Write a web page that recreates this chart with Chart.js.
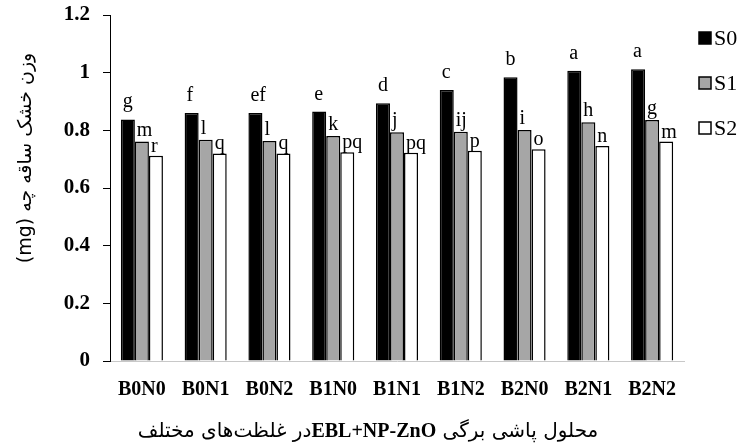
<!DOCTYPE html>
<html>
<head>
<meta charset="utf-8">
<script src="https://cdn.jsdelivr.net/npm/chart.js@4"></script>
<style>
  html, body { margin: 0; padding: 0; background: #fff; }
</style>
</head>
<body>
<canvas id="myChart" width="750" height="447"></canvas>
<script>
const ctx = document.querySelector("#myChart").getContext("2d");

const labels = ["B0N0", "B0N1", "B0N2", "B1N0", "B1N1", "B1N2", "B2N0", "B2N1", "B2N2"];

// dry weight per treatment, three S levels
const s0Values = [0.838, 0.86, 0.86, 0.865, 0.894, 0.94, 0.984, 1.007, 1.012];
const s1Values = [0.761, 0.767, 0.763, 0.78, 0.793, 0.795, 0.801, 0.828, 0.836];
const s2Values = [0.712, 0.72, 0.72, 0.724, 0.722, 0.729, 0.734, 0.746, 0.761];

// mean comparison letters
const s0Letters = ["g", "f", "ef", "e", "d", "c", "b", "a", "a"];
const s1Letters = ["m", "l", "l", "k", "j", "ij", "i", "h", "g"];
const s2Letters = ["r", "q", "q", "pq", "pq", "p", "o", "n", "m"];

const yMin = 0;
const yMax = 1.2;
const yStep = 0.2;

const yTitle = "(mg) وزن خشک ساقه چه";
// x title is drawn right to left: first phrase on the right
const xTitleStart = "محلول پاشی برگی";
const xTitleMid = "EBL+NP-ZnO";
const xTitleEnd = "در غلظت\u200Cهای مختلف";

const serif = "'Liberation Serif', 'Times New Roman', serif";
const farsi = "'DejaVu Sans', sans-serif";

// letters over the bars
const letterGap = [12, 6, 4];
const letterPlugin = {
  id: "letters",
  afterDatasetsDraw(chart) {
    const c = chart.ctx;
    c.save();
    c.font = "20px " + serif;
    c.fillStyle = "#000";
    c.textAlign = "left";
    c.textBaseline = "alphabetic";
    chart.data.datasets.forEach((ds, i) => {
      chart.getDatasetMeta(i).data.forEach((bar, j) => {
        c.fillText(ds.letters[j], bar.x - bar.width / 2 + 2, bar.y - letterGap[i]);
      });
    });
    c.restore();
  },
};

// axis titles and the legend on the right
const extrasPlugin = {
  id: "extras",
  afterDraw(chart) {
    const c = chart.ctx;

    // y title, sits a bit above the middle like the original
    c.save();
    c.fillStyle = "#000";
    c.translate(26, 158);
    c.rotate(-Math.PI / 2);
    c.font = "19px " + farsi;
    c.textAlign = "center";
    c.textBaseline = "middle";
    c.fillText(yTitle, 0, 0);
    c.restore();

    // x title, three pieces laid out from the right
    c.save();
    c.fillStyle = "#000";
    c.textAlign = "left";
    c.textBaseline = "alphabetic";
    const parts = [
      { text: xTitleEnd, font: "20px " + farsi },
      { text: xTitleMid, font: "bold 20px " + serif },
      { text: " " + xTitleStart, font: "20px " + farsi },
    ];
    let total = 0;
    parts.forEach((p) => {
      c.font = p.font;
      p.w = c.measureText(p.text).width;
      total += p.w;
    });
    let x = 368 - total / 2;
    parts.forEach((p) => {
      c.font = p.font;
      c.fillText(p.text, x, 437);
      x += p.w;
    });
    c.restore();

    // legend
    c.save();
    c.font = "22px " + serif;
    c.textAlign = "left";
    c.textBaseline = "middle";
    c.lineWidth = 1.5;
    chart.data.datasets.forEach((ds, i) => {
      const y = 38 + i * 45;
      c.fillStyle = ds.backgroundColor;
      c.strokeStyle = ds.borderColor;
      c.fillRect(699, y - 6, 12, 12);
      c.strokeRect(699, y - 6, 12, 12);
      c.fillStyle = "#000";
      c.fillText(ds.label, 714, y + 1);
    });
    c.restore();
  },
};

const data = {
  labels,
  datasets: [
    {
      label: "S0",
      data: s0Values,
      letters: s0Letters,
      backgroundColor: "#000",
      borderColor: "#000",
      borderWidth: 1.5,
    },
    {
      label: "S1",
      data: s1Values,
      letters: s1Letters,
      backgroundColor: "#a6a6a6",
      borderColor: "#000",
      borderWidth: 1.5,
    },
    {
      label: "S2",
      data: s2Values,
      letters: s2Letters,
      backgroundColor: "#fff",
      borderColor: "#000",
      borderWidth: 1.5,
    },
  ],
};

const config = {
  type: "bar",
  data: data,
  options: {
    responsive: false,
    animation: false,
    layout: { padding: { top: 15, right: 66, bottom: 0, left: 0 } },
    datasets: {
      bar: { barPercentage: 1, categoryPercentage: 0.66 },
    },
    plugins: {
      tooltip: { enabled: false },
      legend: { display: false },
    },
    scales: {
      x: {
        grid: { display: false, drawTicks: false },
        border: { color: "#c8c8c8", width: 1 },
        ticks: {
          color: "#000",
          padding: 17,
          maxRotation: 0,
          autoSkip: false,
          font: { family: serif, size: 20, weight: "bold" },
        },
        afterFit: (scale) => {
          scale.height = 86;
          scale.paddingLeft = 0;
          scale.paddingRight = 0;
        },
      },
      y: {
        min: yMin,
        max: yMax,
        grid: {
          drawOnChartArea: false,
          drawTicks: true,
          tickLength: 7,
          color: "#000",
        },
        border: { color: "#000", width: 1 },
        ticks: {
          stepSize: yStep,
          color: "#000",
          padding: 13,
          font: { family: serif, size: 21, weight: "bold" },
          callback: (value) => String(Number(value.toFixed(1))),
        },
        afterFit: (scale) => {
          scale.width = 110;
          scale.paddingTop = 0;
          scale.paddingBottom = 0;
        },
      },
    },
  },
  plugins: [letterPlugin, extrasPlugin],
};

const myChart = new Chart(ctx, config);
</script>
</body>
</html>
